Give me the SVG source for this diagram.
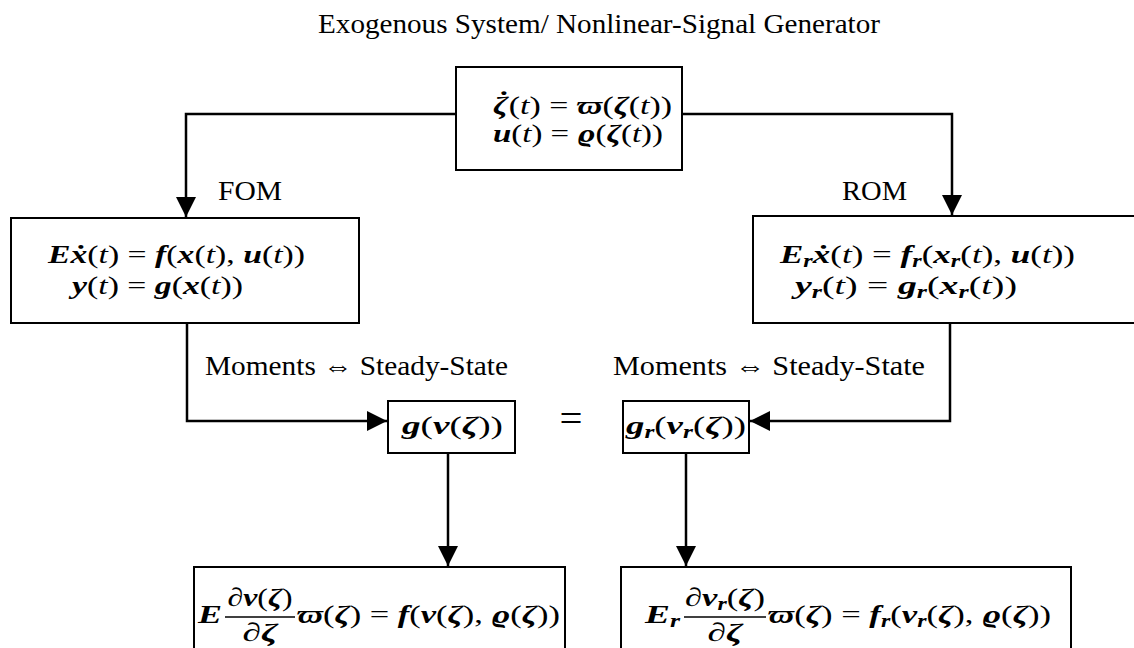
<svg xmlns="http://www.w3.org/2000/svg" width="1134" height="648" viewBox="0 0 1134 648">
<style>
.bg{fill:#fff}
.box{fill:#fff;stroke:#000;stroke-width:2}
.con{fill:none;stroke:#000;stroke-width:2.5}
.t{font-family:"Liberation Serif","DejaVu Serif",serif;font-size:27px;fill:#000}
.m{font-family:"Liberation Serif","DejaVu Serif",serif;font-size:26px;fill:#000}
.eq{font-family:"Liberation Serif","DejaVu Serif",serif;font-size:40px;fill:#000}
.b{font-weight:bold;font-style:italic}
.i{font-style:italic}
.s{font-weight:bold;font-style:italic;font-size:18px}
.bar{stroke:#000;stroke-width:1.3}
</style>
<defs>
<marker id="ah" markerUnits="userSpaceOnUse" markerWidth="20" markerHeight="20" refX="20" refY="10" orient="auto" viewBox="0 0 20 20">
<path d="M0,0 L20,10 L0,20 z" fill="#000"/>
</marker>
</defs>
<rect class="bg" x="0" y="0" width="1134" height="648"/>
<text id="title" class="t" x="318" y="33" textLength="562" lengthAdjust="spacingAndGlyphs">Exogenous System/ Nonlinear-Signal Generator</text>

<g id="connectors">
<path class="con" d="M456,114 H186 V217" marker-end="url(#ah)"/>
<path class="con" d="M682,114 H952 V215" marker-end="url(#ah)"/>
<path class="con" d="M187,323 V421 H387" marker-end="url(#ah)"/>
<path class="con" d="M950,323 V421 H750" marker-end="url(#ah)"/>
<path class="con" d="M448,453 V566" marker-end="url(#ah)"/>
<path class="con" d="M686,453 V566" marker-end="url(#ah)"/>
</g>

<g id="exo">
<rect class="box" x="456" y="67" width="226" height="103"/>
<text class="m" x="493" y="114" textLength="179" lengthAdjust="spacingAndGlyphs"><tspan class="b">ζ</tspan><tspan class="b" dx="-9" dy="-5">˙</tspan><tspan dx="1" dy="5">(</tspan><tspan class="i">t</tspan>) = <tspan class="b">ϖ</tspan>(<tspan class="b">ζ</tspan>(<tspan class="i">t</tspan>))</text>
<text class="m" x="493" y="142" textLength="170" lengthAdjust="spacingAndGlyphs"><tspan class="b">u</tspan>(<tspan class="i">t</tspan>) = <tspan class="b">ϱ</tspan>(<tspan class="b">ζ</tspan>(<tspan class="i">t</tspan>))</text>
</g>

<g id="fom">
<text class="t" x="218" y="200" textLength="64" lengthAdjust="spacingAndGlyphs">FOM</text>
<rect class="box" x="11" y="218" width="348" height="105"/>
<text class="m" x="48" y="263" textLength="257" lengthAdjust="spacingAndGlyphs"><tspan class="b">Eẋ</tspan>(<tspan class="i">t</tspan>) = <tspan class="b">f</tspan>(<tspan class="b">x</tspan>(<tspan class="i">t</tspan>), <tspan class="b">u</tspan>(<tspan class="i">t</tspan>))</text>
<text class="m" x="72" y="294" textLength="171" lengthAdjust="spacingAndGlyphs"><tspan class="b">y</tspan>(<tspan class="i">t</tspan>) = <tspan class="b">g</tspan>(<tspan class="b">x</tspan>(<tspan class="i">t</tspan>))</text>
</g>

<g id="rom">
<text class="t" x="842" y="200" textLength="65" lengthAdjust="spacingAndGlyphs">ROM</text>
<rect class="box" x="753" y="216" width="400" height="107"/>
<text class="m" x="780" y="263" textLength="295" lengthAdjust="spacingAndGlyphs"><tspan class="b">E</tspan><tspan class="s" dy="4">r</tspan><tspan class="b" dy="-4">ẋ</tspan>(<tspan class="i">t</tspan>) = <tspan class="b">f</tspan><tspan class="s" dy="4">r</tspan><tspan dy="-4">(</tspan><tspan class="b">x</tspan><tspan class="s" dy="4">r</tspan><tspan dy="-4">(</tspan><tspan class="i">t</tspan>), <tspan class="b">u</tspan>(<tspan class="i">t</tspan>))</text>
<text class="m" x="795" y="294" textLength="222" lengthAdjust="spacingAndGlyphs"><tspan class="b">y</tspan><tspan class="s" dy="4">r</tspan><tspan dy="-4">(</tspan><tspan class="i">t</tspan>) = <tspan class="b">g</tspan><tspan class="s" dy="4">r</tspan><tspan dy="-4">(</tspan><tspan class="b">x</tspan><tspan class="s" dy="4">r</tspan><tspan dy="-4">(</tspan><tspan class="i">t</tspan>))</text>
</g>

<g id="labels">
<text class="t" x="205" y="375" textLength="303" lengthAdjust="spacingAndGlyphs">Moments ⇔ Steady-State</text>
<text class="t" x="613" y="375" textLength="312" lengthAdjust="spacingAndGlyphs">Moments ⇔ Steady-State</text>
<text class="eq" x="571" y="432" text-anchor="middle" textLength="23" lengthAdjust="spacingAndGlyphs">=</text>
</g>

<g id="ss-fom">
<rect class="box" x="388" y="401" width="127" height="52"/>
<text class="m" x="402" y="434" textLength="101" lengthAdjust="spacingAndGlyphs"><tspan class="b">g</tspan>(<tspan class="b">v</tspan>(<tspan class="b">ζ</tspan>))</text>
</g>

<g id="ss-rom">
<rect class="box" x="623" y="401" width="126" height="52"/>
<text class="m" x="626" y="434" textLength="120" lengthAdjust="spacingAndGlyphs"><tspan class="b">g</tspan><tspan class="s" dy="4">r</tspan><tspan dy="-4">(</tspan><tspan class="b">v</tspan><tspan class="s" dy="4">r</tspan><tspan dy="-4">(</tspan><tspan class="b">ζ</tspan>))</text>
</g>

<g id="pde-fom">
<rect class="box" x="194" y="567" width="371" height="95"/>
<text class="m b" x="198" y="623" textLength="24" lengthAdjust="spacingAndGlyphs">E</text>
<text class="m" x="260" y="606" text-anchor="middle" textLength="65" lengthAdjust="spacingAndGlyphs">∂<tspan class="b">v</tspan>(<tspan class="b">ζ</tspan>)</text>
<line class="bar" x1="225" y1="617" x2="295" y2="617"/>
<text class="m" x="260" y="641" text-anchor="middle" textLength="35" lengthAdjust="spacingAndGlyphs">∂<tspan class="b">ζ</tspan></text>
<text class="m" x="297" y="623" textLength="263" lengthAdjust="spacingAndGlyphs"><tspan class="b">ϖ</tspan>(<tspan class="b">ζ</tspan>) = <tspan class="b">f</tspan>(<tspan class="b">v</tspan>(<tspan class="b">ζ</tspan>), <tspan class="b">ϱ</tspan>(<tspan class="b">ζ</tspan>))</text>
</g>

<g id="pde-rom">
<rect class="box" x="621" y="567" width="450" height="95"/>
<text class="m" x="645" y="623" textLength="35" lengthAdjust="spacingAndGlyphs"><tspan class="b">E</tspan><tspan class="s" dy="4">r</tspan></text>
<text class="m" x="725" y="606" text-anchor="middle" textLength="80" lengthAdjust="spacingAndGlyphs">∂<tspan class="b">v</tspan><tspan class="s" dy="4">r</tspan><tspan dy="-4">(</tspan><tspan class="b">ζ</tspan>)</text>
<line class="bar" x1="684" y1="617" x2="766" y2="617"/>
<text class="m" x="725" y="641" text-anchor="middle" textLength="35" lengthAdjust="spacingAndGlyphs">∂<tspan class="b">ζ</tspan></text>
<text class="m" x="768" y="623" textLength="283" lengthAdjust="spacingAndGlyphs"><tspan class="b">ϖ</tspan>(<tspan class="b">ζ</tspan>) = <tspan class="b">f</tspan><tspan class="s" dy="4">r</tspan><tspan dy="-4">(</tspan><tspan class="b">v</tspan><tspan class="s" dy="4">r</tspan><tspan dy="-4">(</tspan><tspan class="b">ζ</tspan>), <tspan class="b">ϱ</tspan>(<tspan class="b">ζ</tspan>))</text>
</g>
</svg>
